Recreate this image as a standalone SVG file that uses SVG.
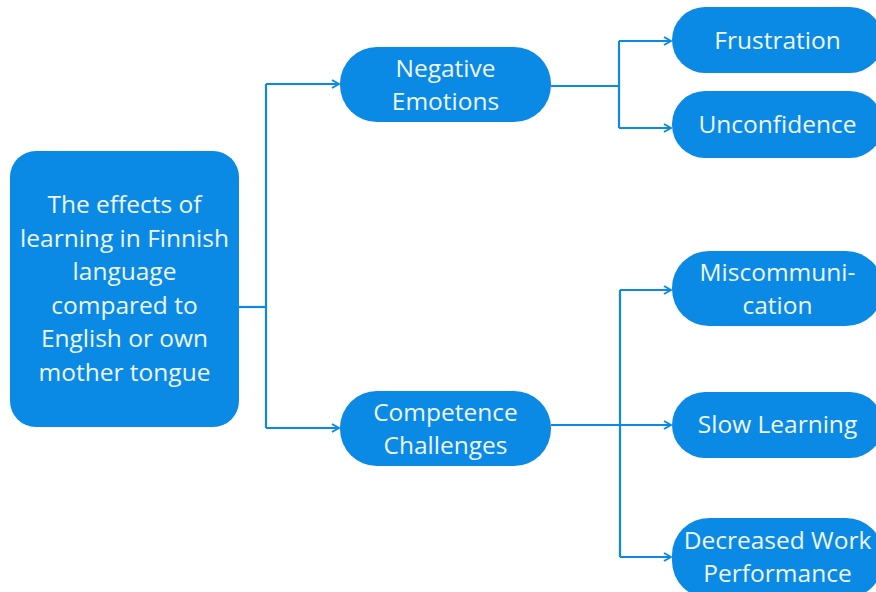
<svg xmlns="http://www.w3.org/2000/svg" width="876" height="592" viewBox="0 0 876 592">
<defs>
<style>
.n{fill:#0a8ae4}
.t{fill:#eef6fd;font-family:"Open Sans","Noto Sans",sans-serif;font-size:24.5px;text-anchor:middle}
.c{fill:none;stroke:#0a8ae4;stroke-width:2.2}
</style>
<marker id="ah" viewBox="0 0 10 10" refX="9" refY="5" markerWidth="10" markerHeight="10" markerUnits="userSpaceOnUse" orient="auto">
<path d="M2,1 L9,5 L2,9" fill="none" stroke="#0a8ae4" stroke-width="2"/>
</marker>
</defs>
<rect width="876" height="592" fill="#ffffff"/>
<g id="connectors">
<path class="c" d="M239,307 H266"/>
<path class="c" d="M266,84 V428"/>
<path class="c" d="M266,84 H339" marker-end="url(#ah)"/>
<path class="c" d="M266,428 H339" marker-end="url(#ah)"/>
<path class="c" d="M551,86 H619"/>
<path class="c" d="M619,41 V128"/>
<path class="c" d="M619,41 H671" marker-end="url(#ah)"/>
<path class="c" d="M619,128 H671" marker-end="url(#ah)"/>
<path class="c" d="M551,425 H671" marker-end="url(#ah)"/>
<path class="c" d="M620,290 V557"/>
<path class="c" d="M620,290 H671" marker-end="url(#ah)"/>
<path class="c" d="M620,557 H671" marker-end="url(#ah)"/>
</g>
<g id="root">
<rect class="n" x="10" y="151" width="229" height="276" rx="26"/>
<text class="t" x="124.5" y="213">The effects of</text>
<text class="t" x="124.5" y="247">learning in Finnish</text>
<text class="t" x="124.5" y="280">language</text>
<text class="t" x="124.5" y="314">compared to</text>
<text class="t" x="124.5" y="347">English or own</text>
<text class="t" x="124.5" y="381">mother tongue</text>
</g>
<g id="negative-emotions">
<rect class="n" x="340" y="47" width="211" height="75" rx="37"/>
<text class="t" x="445.5" y="77">Negative</text>
<text class="t" x="445.5" y="110">Emotions</text>
</g>
<g id="competence-challenges">
<rect class="n" x="340" y="391" width="211" height="75" rx="37"/>
<text class="t" x="445.5" y="421">Competence</text>
<text class="t" x="445.5" y="454">Challenges</text>
</g>
<g id="frustration">
<rect class="n" x="672" y="7" width="211" height="66" rx="33"/>
<text class="t" x="777.5" y="49">Frustration</text>
</g>
<g id="unconfidence">
<rect class="n" x="672" y="91" width="211" height="67" rx="33"/>
<text class="t" x="777.5" y="133">Unconfidence</text>
</g>
<g id="miscommunication">
<rect class="n" x="672" y="251" width="211" height="75" rx="37"/>
<text class="t" x="777.5" y="281">Miscommuni-</text>
<text class="t" x="777.5" y="314">cation</text>
</g>
<g id="slow-learning">
<rect class="n" x="672" y="392" width="211" height="66" rx="33"/>
<text class="t" x="777.5" y="433">Slow Learning</text>
</g>
<g id="decreased-work-performance">
<rect class="n" x="672" y="518" width="211" height="80" rx="37"/>
<text class="t" x="777.5" y="549">Decreased Work</text>
<text class="t" x="777.5" y="582">Performance</text>
</g>
</svg>
